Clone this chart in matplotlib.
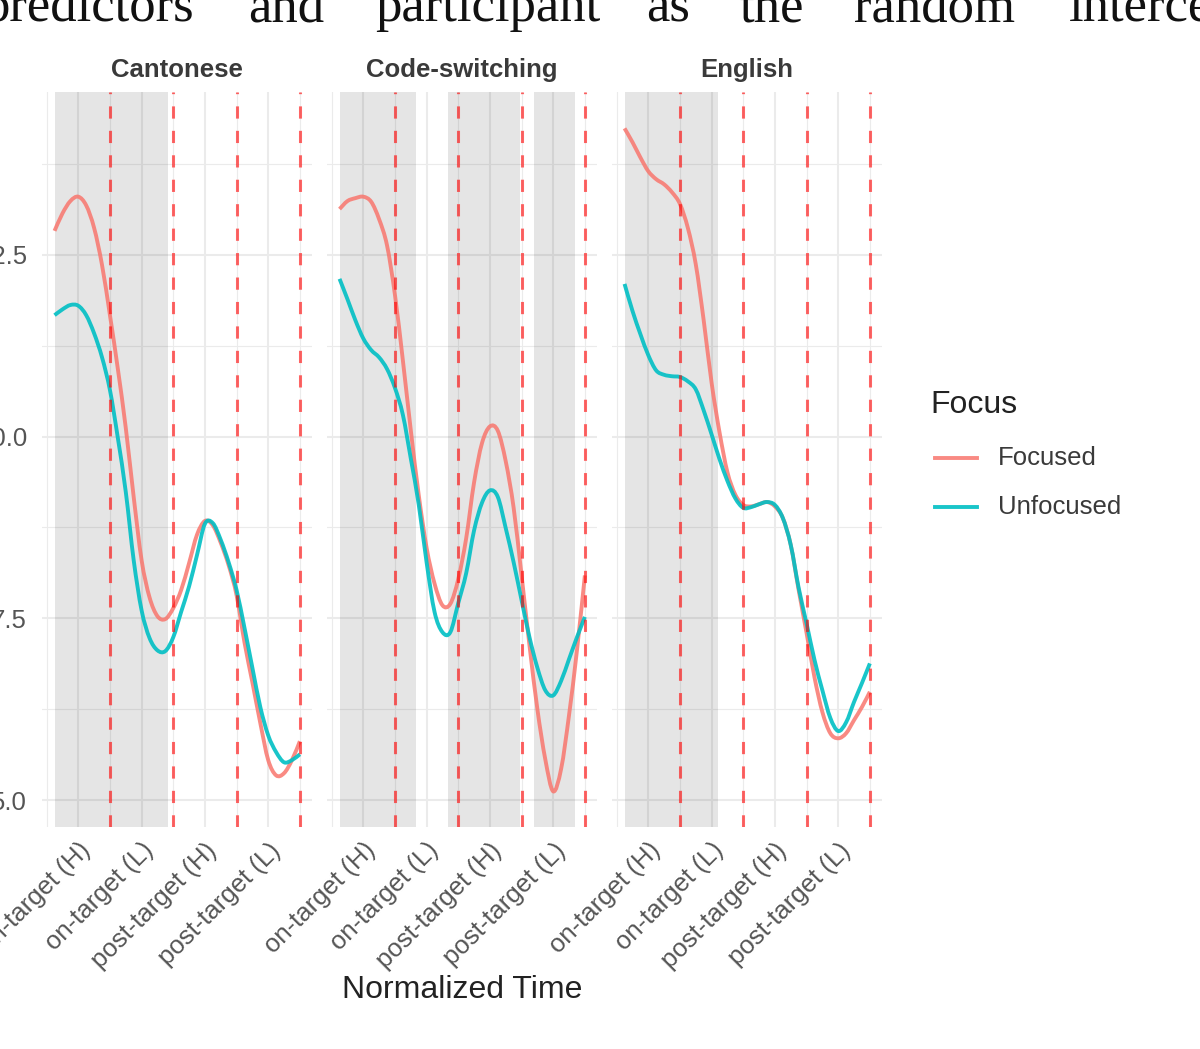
import matplotlib
matplotlib.use("Agg")
import matplotlib.pyplot as plt
from matplotlib.lines import Line2D
from matplotlib.path import Path
from matplotlib.patches import PathPatch

# ---------------- data ----------------
panel_names = ["Cantonese", "Code-switching", "English"]
focus_levels = ["Focused", "Unfocused"]
tick_positions = [1, 2, 3, 4]
tick_labels = ["on-target (H)", "on-target (L)", "post-target (H)", "post-target (L)"]
boundaries = [1.5, 2.5, 3.5, 4.5]
y_ticks = [5.0, 7.5, 10.0, 12.5]
y_minor = [6.25, 8.75, 11.25, 13.75]
x_minor = [0.5, 1.5, 2.5, 3.5, 4.5]

time = [0.625, 0.75, 0.875, 1.0, 1.125, 1.25, 1.375, 1.5, 1.625, 1.75, 1.875, 2.0,
        2.125, 2.25, 2.375, 2.5, 2.625, 2.75, 2.875, 3.0, 3.125, 3.25, 3.375, 3.5,
        3.625, 3.75, 3.875, 4.0, 4.125, 4.25, 4.375, 4.5]

cant_focused = [12.83, 13.07, 13.24, 13.30, 13.18, 12.87, 12.36, 11.67, 10.93, 10.12, 9.17, 8.30,
                7.79, 7.53, 7.49, 7.64, 7.89, 8.26, 8.65, 8.84, 8.78, 8.54, 8.23, 7.82,
                7.17, 6.62, 6.06, 5.55, 5.34, 5.37, 5.55, 5.81]
cant_unfocused = [11.67, 11.75, 11.81, 11.80, 11.67, 11.42, 11.09, 10.64, 9.98, 9.24, 8.30, 7.61,
                  7.23, 7.06, 7.05, 7.24, 7.59, 7.94, 8.37, 8.80, 8.81, 8.58, 8.27, 7.89,
                  7.37, 6.82, 6.28, 5.89, 5.66, 5.52, 5.55, 5.63]
cs_focused = [13.13, 13.24, 13.28, 13.30, 13.23, 12.99, 12.63, 11.95, 11.05, 10.09, 9.20, 8.47,
              7.98, 7.68, 7.70, 8.04, 8.60, 9.37, 9.91, 10.14, 10.08, 9.66, 9.02, 8.09,
              7.13, 6.25, 5.56, 5.12, 5.43, 6.17, 7.06, 8.09]
cs_unfocused = [12.17, 11.89, 11.60, 11.35, 11.19, 11.09, 10.93, 10.67, 10.30, 9.70, 9.07, 8.27,
                7.59, 7.31, 7.31, 7.71, 8.12, 8.71, 9.09, 9.26, 9.17, 8.74, 8.27, 7.75,
                7.24, 6.82, 6.51, 6.44, 6.64, 6.94, 7.24, 7.52]
eng_focused = [14.24, 14.05, 13.84, 13.65, 13.54, 13.47, 13.36, 13.20, 12.87, 12.37, 11.60, 10.74,
               10.06, 9.51, 9.20, 9.06, 9.04, 9.07, 9.10, 9.04, 8.88, 8.51, 7.89, 7.30,
               6.69, 6.21, 5.92, 5.85, 5.92, 6.10, 6.28, 6.49]
eng_unfocused = [12.10, 11.73, 11.41, 11.12, 10.91, 10.85, 10.83, 10.82, 10.76, 10.65, 10.36, 10.03,
                 9.69, 9.39, 9.15, 9.02, 9.03, 9.07, 9.10, 9.06, 8.88, 8.51, 7.92, 7.43,
                 6.93, 6.51, 6.13, 5.95, 6.07, 6.35, 6.61, 6.88]

shade_cant = [(0.625, 2.42)]
shade_cs = [(0.625, 1.83), (2.34, 3.47), (3.69, 4.35)]
shade_eng = [(0.625, 2.10)]

body_words = ["predictors", "and", "participant", "as", "the", "random", "intercept"]

series = [(cant_focused, cant_unfocused, shade_cant),
          (cs_focused, cs_unfocused, shade_cs),
          (eng_focused, eng_unfocused, shade_eng)]

# ---------------- figure ----------------
W, H = 1200, 1049
fig = plt.figure(figsize=(W / 100, H / 100), dpi=100)
plt.rcParams['font.family'] = ['Liberation Sans', 'DejaVu Sans']

RED = '#F8766D'
TEAL = '#00BFC4'


def px_axes(x0, y0, x1, y1):
    return fig.add_axes([x0 / W, 1 - y1 / H, (x1 - x0) / W, (y1 - y0) / H])


def smooth_line(ax, xs, ys, **kw):
    """Draw the measured points as one smooth Bezier path (Catmull-Rom handles)."""
    pts = list(zip(xs, ys))
    n = len(pts)
    verts = [pts[0]]
    codes = [Path.MOVETO]
    for k in range(n - 1):
        p0 = pts[k - 1] if k > 0 else pts[k]
        p1 = pts[k]
        p2 = pts[k + 1]
        p3 = pts[k + 2] if k + 2 < n else pts[k + 1]
        c1 = (p1[0] + (p2[0] - p0[0]) / 6, p1[1] + (p2[1] - p0[1]) / 6)
        c2 = (p2[0] - (p3[0] - p1[0]) / 6, p2[1] - (p3[1] - p1[1]) / 6)
        verts += [c1, c2, p2]
        codes += [Path.CURVE4] * 3
    patch = PathPatch(Path(verts, codes), fill=False, capstyle='butt',
                      joinstyle='round', transform=ax.transData, **kw)
    ax.add_patch(patch)


top_px, bot_px = 92, 827
for i, (name, (foc, unf, shades)) in enumerate(zip(panel_names, series)):
    x0 = 42.2 + i * 285
    ax = px_axes(x0, top_px, x0 + 269.7, bot_px)
    ax.set_xlim(0.43, 4.69)
    ax.set_ylim(4.63, 14.74)
    for s in ax.spines.values():
        s.set_visible(False)
    ax.set_facecolor('white')
    ax.set_xticks(tick_positions)
    ax.set_xticklabels(tick_labels, rotation=45, ha='right', va='top',
                       rotation_mode='anchor')
    ax.set_xticks(x_minor, minor=True)
    ax.set_yticks(y_ticks)
    ax.set_yticklabels([f"{v:.1f}" for v in y_ticks])
    ax.set_yticks(y_minor, minor=True)
    ax.tick_params(which='both', length=0)
    ax.tick_params(axis='x', labelsize=18.5, labelcolor='#555555', pad=8)
    ax.tick_params(axis='y', labelsize=18.5, labelcolor='#555555', pad=11)
    if i > 0:
        ax.tick_params(axis='y', labelleft=False)
    ax.set_axisbelow(True)
    ax.grid(which='major', color='#ebebeb', lw=1.5)
    ax.grid(which='minor', color='#ebebeb', lw=0.8)
    for a, b in shades:
        ax.axvspan(a, b, color='black', alpha=0.1, lw=0, zorder=1)
    smooth_line(ax, time, foc, edgecolor=RED, lw=2.8, alpha=0.85, zorder=3)
    smooth_line(ax, time, unf, edgecolor=TEAL, lw=2.8, alpha=0.9, zorder=4)
    for bnd in boundaries:
        ax.axvline(bnd, color='red', alpha=0.6, lw=2.2, ls=(0, (4, 4)), zorder=5)
    ax.text(0.5, 1 + (top_px - 70) / (bot_px - top_px), name, transform=ax.transAxes,
            ha='center', va='center', fontsize=18.5, fontweight='bold', color='#3a3a3a')

# axis title
fig.text(462 / W, 1 - 990 / H, "Normalized Time", ha='center', va='center',
         fontsize=23, color='#222222')

# legend
fig.text(930 / W, 1 - 413 / H, "Focus", ha='left', va='baseline', fontsize=23, color='#222222')
for lab, col, y, al in [(focus_levels[0], RED, 458, 0.85), (focus_levels[1], TEAL, 507, 0.9)]:
    fig.add_artist(Line2D([935 / W, 977 / W], [1 - y / H, 1 - y / H], color=col, lw=2.8, alpha=al))
    fig.text(998 / W, 1 - y / H, lab, ha='left', va='center', fontsize=18.5, color='#3a3a3a')

# body text cropped above the figure
word_x = [-17, 248, 375, 646, 740, 854, 1069]
for w, x in zip(body_words, word_x):
    fig.text(x / W, 1 - 21 / H, w, ha='left', va='baseline', fontsize=38,
             family=['Liberation Serif', 'DejaVu Serif'], color='#111111')

fig.savefig("out.png", dpi=100)
